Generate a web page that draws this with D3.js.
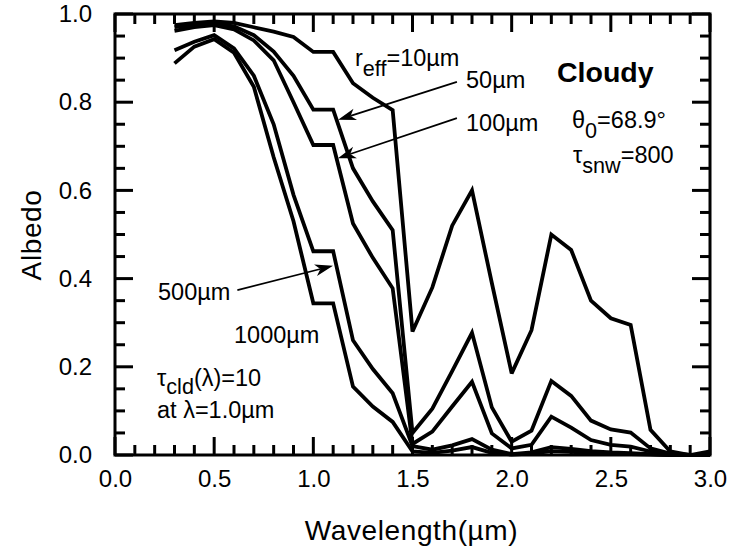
<!DOCTYPE html>
<html>
<head>
<meta charset="utf-8">
<script src="https://cdn.jsdelivr.net/npm/d3@7"></script>
<style>
  html, body { margin: 0; padding: 0; background: #fff; }
  text { font-family: "Liberation Sans", Arial, Helvetica, sans-serif; fill: #000; }
</style>
</head>
<body>
<script>
// Wavelength grid (µm)
const wavelength = [0.3,0.4,0.5,0.6,0.7,0.8,0.9,1.0,1.1,1.2,1.3,1.4,1.5,1.6,1.7,1.8,1.9,2.0,2.1,2.2,2.3,2.4,2.5,2.6,2.7,2.8,2.9,3.0];

// Spectral albedo for each cloud droplet effective radius
const albedo10   = [0.975,0.980,0.983,0.980,0.970,0.960,0.948,0.914,0.914,0.843,0.810,0.782,0.280,0.380,0.520,0.600,0.390,0.185,0.283,0.500,0.465,0.350,0.310,0.295,0.057,0.008,0.000,0.008];
const albedo50   = [0.970,0.975,0.978,0.972,0.952,0.915,0.860,0.783,0.783,0.650,0.575,0.510,0.050,0.105,0.190,0.277,0.108,0.030,0.055,0.168,0.134,0.078,0.058,0.051,0.015,0.003,0.000,0.000];
const albedo100  = [0.962,0.970,0.975,0.965,0.940,0.895,0.800,0.703,0.703,0.525,0.447,0.378,0.025,0.053,0.110,0.166,0.049,0.015,0.023,0.087,0.062,0.034,0.023,0.019,0.008,0.002,0.000,0.000];
const albedo500  = [0.918,0.937,0.952,0.922,0.860,0.750,0.590,0.462,0.462,0.260,0.195,0.140,0.020,0.012,0.022,0.036,0.012,0.002,0.006,0.018,0.014,0.009,0.006,0.004,0.002,0.000,0.000,0.000];
const albedo1000 = [0.888,0.926,0.943,0.912,0.835,0.675,0.530,0.344,0.344,0.155,0.110,0.075,0.008,0.005,0.010,0.018,0.005,0.001,0.003,0.009,0.007,0.004,0.003,0.002,0.001,0.000,0.000,0.000];

// Axis ticks
const xMajorTicks = [0.0,0.5,1.0,1.5,2.0,2.5,3.0];
const yMajorTicks = [0.0,0.2,0.4,0.6,0.8,1.0];
const xMinorTicks = d3.range(0, 31).map(i => i / 10);
const yMinorTicks = d3.range(0, 21).map(i => i / 20);

const W = 732, H = 554;
const plotLeft = 115, plotRight = 710, plotTop = 14, plotBottom = 455;

const svg = d3.select("body").append("svg")
  .attr("width", W).attr("height", H);

svg.append("rect").attr("width", W).attr("height", H).attr("fill", "#fff");

const x = d3.scaleLinear().domain([0, 3]).range([plotLeft, plotRight]);
const y = d3.scaleLinear().domain([0, 1]).range([plotBottom, plotTop]);

const minorLen = 10, majorLen = 18, tickW = 3;
const tickFont = 24;

// Tick labels from the library's axes
function styleAxis(g) {
  g.select(".domain").remove();
  g.selectAll(".tick line").remove();
  g.selectAll(".tick text").attr("font-size", tickFont).attr("font-family", null).attr("fill", "#000");
}
svg.append("g").attr("transform", `translate(0,${plotBottom})`)
  .call(d3.axisBottom(x).tickValues(xMajorTicks).tickSize(0).tickPadding(15).tickFormat(d3.format(".1f")))
  .call(styleAxis);
svg.append("g").attr("transform", `translate(${plotLeft},0)`)
  .call(d3.axisLeft(y).tickValues(yMajorTicks).tickSize(0).tickPadding(23).tickFormat(d3.format(".1f")))
  .call(styleAxis);

// Frame
svg.append("rect")
  .attr("x", plotLeft).attr("y", plotTop)
  .attr("width", plotRight - plotLeft).attr("height", plotBottom - plotTop)
  .attr("fill", "none").attr("stroke", "#000").attr("stroke-width", 3);

// Albedo curves
const series = [albedo10, albedo50, albedo100, albedo500, albedo1000];
const curve = d3.line()
  .x((d, i) => x(wavelength[i]))
  .y(d => y(d));

svg.append("g").selectAll("path")
  .data(series)
  .join("path")
  .attr("d", curve)
  .attr("fill", "none")
  .attr("stroke", "#000")
  .attr("stroke-width", 3.8)
  .attr("stroke-linejoin", "miter")
  .attr("stroke-miterlimit", 3);

// Arrows from labels to curves: [tail wavelength, tail albedo, tip wavelength, tip albedo]
const arrows = [
  [1.724, 0.846, 1.125, 0.760],
  [1.724, 0.764, 1.124, 0.673],
  [0.617, 0.374, 1.099, 0.429]
];
const arrowG = svg.append("g");
arrows.forEach(([w0, a0, w1, a1]) => {
  const x0 = x(w0), y0 = y(a0), x1 = x(w1), y1 = y(a1);
  const ang = Math.atan2(y1 - y0, x1 - x0);
  const len = 18, half = 6, notch = 13;
  const ux = Math.cos(ang), uy = Math.sin(ang);
  const bx = x1 - ux * len, by = y1 - uy * len;
  const nx = x1 - ux * notch, ny = y1 - uy * notch;
  arrowG.append("path")
    .attr("d", `M${x0},${y0}L${nx},${ny}`)
    .attr("stroke", "#000").attr("stroke-width", 1.7).attr("fill", "none");
  arrowG.append("path")
    .attr("d", `M${x1},${y1} L${bx - uy * half},${by + ux * half} L${nx},${ny} L${bx + uy * half},${by - ux * half} Z`)
    .attr("fill", "#000");
});

// Annotations
const annFont = 23.5;
function label(xp, yp, parts, size = annFont, weight = "normal") {
  const t = svg.append("text").attr("x", xp).attr("y", yp)
    .attr("font-size", size).attr("font-weight", weight);
  parts.forEach(p => {
    const s = t.append("tspan").text(p.t);
    if (p.sub) s.attr("font-size", size * 0.92).attr("dy", p.dy);
    else if (p.dy) s.attr("dy", p.dy);
  });
  return t;
}

label(355, 66, [{t: "r"}, {t: "eff", sub: true, dy: 10}, {t: "=10µm", dy: -10}]);
label(466, 88, [{t: "50µm"}]);
label(466, 131, [{t: "100µm"}]);
label(557, 82, [{t: "Cloudy"}], 28.5, "bold");
label(572, 128, [{t: "θ"}, {t: "0", sub: true, dy: 10}, {t: "=68.9°", dy: -10}]);
label(573, 163, [{t: "τ"}, {t: "snw", sub: true, dy: 10}, {t: "=800", dy: -10}]);
label(158, 300, [{t: "500µm"}]);
label(234, 343, [{t: "1000µm"}]);
label(157, 386, [{t: "τ"}, {t: "cld", sub: true, dy: 8}, {t: "(λ)=10", dy: -8}]);
label(157, 418, [{t: "at λ=1.0µm"}]);

// Axis titles
svg.append("text")
  .attr("x", (plotLeft + plotRight) / 2 - 1).attr("y", 540)
  .attr("text-anchor", "middle").attr("font-size", 28)
  .attr("letter-spacing", 0.6)
  .text("Wavelength(µm)");
svg.append("text")
  .attr("transform", "translate(41,235) rotate(-90)")
  .attr("text-anchor", "middle").attr("font-size", 28)
  .attr("letter-spacing", 0.6)
  .text("Albedo");

// Inward tick marks on all four sides of the frame, drawn last so nothing covers them
const isMajorX = v => xMajorTicks.some(m => Math.abs(m - v) < 1e-6);
const isMajorY = v => yMajorTicks.some(m => Math.abs(m - v) < 1e-6);
const xLen = d => (isMajorX(d) ? majorLen : minorLen);
const yLen = d => (isMajorY(d) ? majorLen : minorLen);

const tickPaths = [
  ...xMinorTicks.map(d => `M${x(d)},${plotBottom}V${plotBottom - xLen(d)}`),
  ...xMinorTicks.map(d => `M${x(d)},${plotTop}V${plotTop + xLen(d)}`),
  ...yMinorTicks.map(d => `M${plotLeft},${y(d)}H${plotLeft + yLen(d)}`),
  ...yMinorTicks.map(d => `M${plotRight},${y(d)}H${plotRight - yLen(d)}`)
];
svg.append("g").selectAll("path")
  .data(tickPaths)
  .join("path")
  .attr("d", d => d)
  .attr("fill", "none")
  .attr("stroke", "#000")
  .attr("stroke-width", tickW);
</script>
</body>
</html>
